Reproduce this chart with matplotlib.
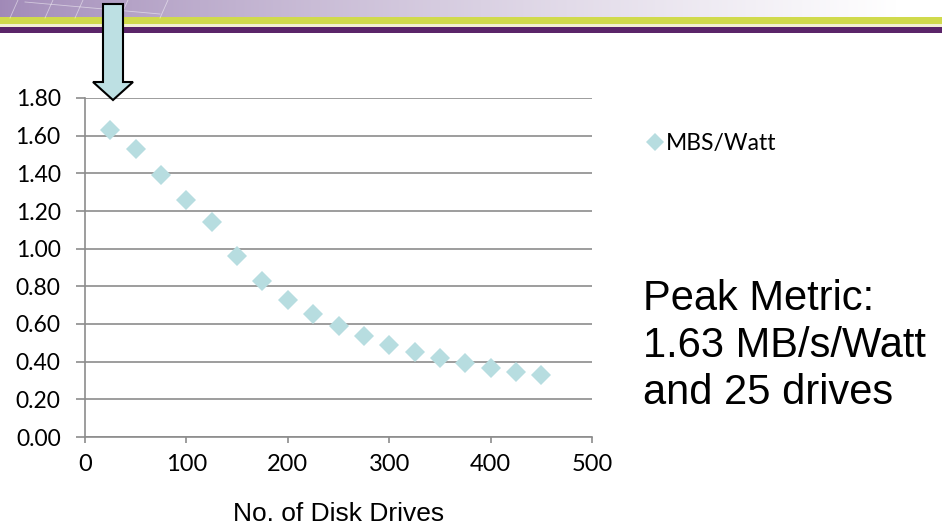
import numpy as np
import matplotlib
matplotlib.use("Agg")
import matplotlib.pyplot as plt
from matplotlib.patches import Polygon, Rectangle

drives = [25, 50, 75, 100, 125, 150, 175, 200, 225, 250, 275, 300, 325, 350, 375, 400, 425, 450]
mbs_per_watt = [1.63, 1.53, 1.39, 1.26, 1.14, 0.96, 0.83, 0.73, 0.653, 0.59, 0.538, 0.49, 0.453, 0.42, 0.395, 0.368, 0.347, 0.329]
yticks = [0.0, 0.2, 0.4, 0.6, 0.8, 1.0, 1.2, 1.4, 1.6, 1.8]
xticks = [0, 100, 200, 300, 400, 500]
series_name = "MBS/Watt"
xlabel = "No. of Disk Drives"
note = "Peak Metric:\n1.63 MB/s/Watt\nand 25 drives"

W, H = 942, 527
fig = plt.figure(figsize=(W / 100, H / 100), dpi=100)
fig.patch.set_facecolor("white")

def fx(px):
    return px / W

def fy(py):
    return 1 - py / H

# ---- top banner ----
bax = fig.add_axes([0, fy(34), 1, 34 / H])
bax.set_xlim(0, W)
bax.set_ylim(34, 0)
bax.axis("off")
grad = np.linspace(0, 1, 400)
c0 = np.array([0.63, 0.54, 0.72])
c1 = np.array([1.0, 1.0, 1.0])
t = np.clip(grad * 1.05, 0, 1) ** 0.8
img = (c0[None, :] * (1 - t[:, None]) + c1[None, :] * t[:, None])[None, :, :]
bax.imshow(img, extent=[0, W, 18, 0], aspect="auto")
for x0 in [10, 45, 75, 120, 160]:
    bax.plot([x0, x0 + 8], [18, 0], color="white", lw=0.6, alpha=0.5)
bax.plot([25, 160], [2, 14], color="white", lw=0.6, alpha=0.5)
bax.add_patch(Rectangle((0, 17), W, 7, color="#d0da4c", lw=0))
bax.add_patch(Rectangle((0, 24), W, 2.7, color="#f3f0d2", lw=0))
bax.add_patch(Rectangle((0, 26.7), W, 6.5, color="#5b2569", lw=0))

# ---- chart ----
ax = fig.add_axes([fx(85), fy(437), fx(592) - fx(85), (437 - 98) / H])
ax.plot(drives, mbs_per_watt, linestyle="none", marker="D", markersize=10,
        color="#b7dde0", markeredgewidth=0, label=series_name, zorder=3)
ax.set_xlim(0, 500)
ax.set_ylim(0, 1.8)
ax.set_xticks(xticks)
ax.set_yticks(yticks)
ax.set_yticklabels([f"{v:.2f}" for v in yticks])
ax.yaxis.grid(True, color="#8c8c8c", lw=1.2)
ax.set_axisbelow(True)
for s in ["top", "right"]:
    ax.spines[s].set_visible(False)
for s in ["left", "bottom"]:
    ax.spines[s].set_color("#8c8c8c")
    ax.spines[s].set_linewidth(1.2)
ax.tick_params(axis="y", length=6.5, width=1.2, color="#8c8c8c", pad=11)
ax.tick_params(axis="x", length=4.5, width=1.2, color="#8c8c8c", pad=8)
tickfont = "Lato"
for lab in ax.get_xticklabels():
    lab.set_fontfamily(tickfont)
    lab.set_fontsize(17)
for lab in ax.get_yticklabels():
    lab.set_fontfamily(tickfont)
    lab.set_fontsize(16.5)
ax.set_xlabel(xlabel, fontsize=19, family="Liberation Sans", labelpad=19)

leg = ax.legend(loc="upper left", bbox_to_anchor=(1.085, 0.925), frameon=False,
                prop={"family": tickfont, "size": 16.5}, handletextpad=0.05,
                handlelength=0.9, markerscale=0.9, borderaxespad=0)

fig.text(fx(643), fy(346), note, fontsize=30, family="Liberation Sans",
         va="center", ha="left", linespacing=1.21)

# ---- arrow ----
arrow_px = [(103, 4), (123, 4), (123, 82), (133, 82), (113, 100), (93, 82), (103, 82)]
arrow = Polygon([(fx(x), fy(y)) for x, y in arrow_px], closed=True,
                transform=fig.transFigure, facecolor="#bde0e3",
                edgecolor="black", lw=1.5, zorder=10)
fig.patches.append(arrow)

fig.savefig("out.png", dpi=100)
